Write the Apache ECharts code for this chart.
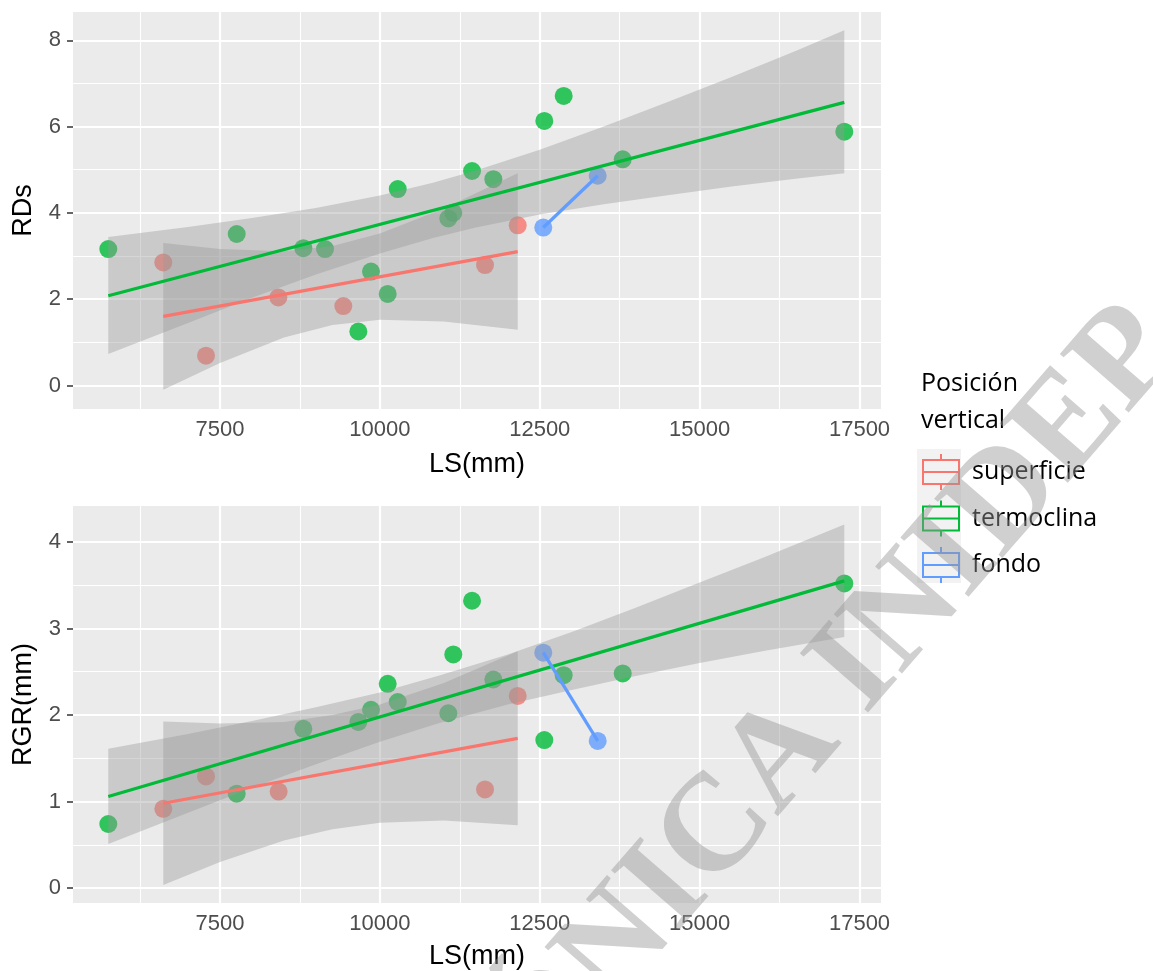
<!DOCTYPE html>
<html>
<head>
<meta charset="utf-8">
<script src="https://cdn.jsdelivr.net/npm/echarts@6/dist/echarts.min.js"></script>
<style>
html,body{margin:0;padding:0;background:#fff;}
#chart{width:1153px;height:971px;}
</style>
</head>
<body>
<div id="chart"></div>
<script>
// ---- axis breaks ----
const xTicks = [7500, 10000, 12500, 15000, 17500];
const xMinor = [6250, 8750, 11250, 13750, 16250];
const rdsTicks = [0, 2, 4, 6, 8];
const rdsMinor = [1, 3, 5, 7];
const rgrTicks = [0, 1, 2, 3, 4];
const rgrMinor = [0.5, 1.5, 2.5, 3.5];

const groups = ['superficie', 'termoclina', 'fondo'];
const groupColors = ['#F8766D', '#00BA38', '#619CFF'];

// ---- RDs panel: points ----
const supLS_RDs = [6613, 7281, 8412, 9428, 11644, 12155];
const supRDs    = [2.85, 0.69, 2.04, 1.84, 2.79, 3.71];
const terLS_RDs = [5753, 7761, 8803, 9142, 9663, 9861, 10122, 10279, 11070, 11148, 11441, 11774, 12571, 12874, 13797, 17262];
const terRDs    = [3.16, 3.51, 3.18, 3.16, 1.25, 2.64, 2.12, 4.55, 3.87, 4.00, 4.97, 4.78, 6.13, 6.71, 5.24, 5.88];
const fonLS_RDs = [12555, 13406];
const fonRDs    = [3.66, 4.86];

// ---- RDs panel: fitted lines ----
const supFitLS_RDs = [6613, 12155];
const supFitRDs    = [1.60, 3.10];
const terFitLS_RDs = [5753, 17262];
const terFitRDs    = [2.08, 6.56];

// ---- RDs panel: confidence bands ----
const supBandLS_RDs = [6613, 7500, 8500, 9258, 10000, 11000, 12155];
const supBandLoRDs  = [-0.10, 0.52, 1.11, 1.40, 1.52, 1.48, 1.29];
const supBandHiRDs  = [3.30, 3.16, 3.11, 3.23, 3.52, 4.10, 4.92];
const terBandLS_RDs = [5753, 7000, 8000, 9000, 10000, 10830, 11500, 12500, 13500, 14500, 15500, 16500, 17262];
const terBandLoRDs  = [0.73, 1.45, 2.03, 2.57, 3.06, 3.42, 3.66, 3.96, 4.20, 4.41, 4.61, 4.79, 4.92];
const terBandHiRDs  = [3.44, 3.67, 3.88, 4.11, 4.40, 4.70, 4.98, 5.46, 6.00, 6.57, 7.15, 7.75, 8.23];

// ---- RGR panel: points ----
const supLS_RGR = [6613, 7281, 8417, 11644, 12155];
const supRGR    = [0.915, 1.29, 1.115, 1.14, 2.22];
const terLS_RGR = [5753, 7761, 8803, 9663, 9861, 10122, 10279, 11070, 11148, 11441, 11774, 12571, 12874, 13797, 17262];
const terRGR    = [0.74, 1.09, 1.84, 1.92, 2.06, 2.36, 2.15, 2.02, 2.70, 3.32, 2.41, 1.71, 2.46, 2.48, 3.52];
const fonLS_RGR = [12555, 13406];
const fonRGR    = [2.72, 1.70];

// ---- RGR panel: fitted lines ----
const supFitLS_RGR = [6613, 12155];
const supFitRGR    = [0.98, 1.73];
const terFitLS_RGR = [5753, 17262];
const terFitRGR    = [1.057, 3.55];

// ---- RGR panel: confidence bands ----
const supBandLS_RGR = [6613, 7500, 8500, 9258, 10000, 11000, 12155];
const supBandLoRGR  = [0.035, 0.30, 0.55, 0.68, 0.755, 0.78, 0.725];
const supBandHiRGR  = [1.925, 1.90, 1.92, 2.00, 2.12, 2.37, 2.735];
const terBandLS_RGR = [5753, 7000, 8000, 9000, 10000, 10943, 12000, 13000, 14000, 15000, 16000, 17262];
const terBandLoRGR  = [0.51, 0.87, 1.16, 1.43, 1.69, 1.91, 2.12, 2.29, 2.45, 2.60, 2.74, 2.90];
const terBandHiRGR  = [1.61, 1.78, 1.93, 2.09, 2.26, 2.46, 2.70, 2.96, 3.24, 3.53, 3.82, 4.20];

// ---------------------------------------------------------------
const pairs = (xs, ys) => xs.map((x, i) => [x, ys[i]]);
const AX_FONT = 'Liberation Sans, Arial, sans-serif';
const LEG_FONT = 'Open Sans, Noto Sans, sans-serif';

function gridLines(idx, yMajor, yMinor) {
  const w = (width) => ({ lineStyle: { color: '#FFFFFF', width: width, type: 'solid', opacity: 1 } });
  const d = [];
  xMinor.forEach(v => d.push(Object.assign({ xAxis: v }, w(1.1))));
  yMinor.forEach(v => d.push(Object.assign({ yAxis: v }, w(1.1))));
  xTicks.forEach(v => d.push(Object.assign({ xAxis: v }, w(2.2))));
  yMajor.forEach(v => d.push(Object.assign({ yAxis: v }, w(2.2))));
  return {
    type: 'line', name: 'grid' + idx, xAxisIndex: idx, yAxisIndex: idx, data: [], silent: true, z: 1,
    markLine: { silent: true, symbol: ['none', 'none'], label: { show: false }, z: 1, animation: false,
      emphasis: { disabled: true }, data: d }
  };
}
function pointSeries(idx, name, color, xs, ys) {
  return { type: 'scatter', name: name, xAxisIndex: idx, yAxisIndex: idx, z: 2, silent: true,
    symbol: 'circle', symbolSize: 18, itemStyle: { color: color, opacity: 0.8 },
    data: pairs(xs, ys), animation: false };
}
function bandSeries(idx, xs, lo, hi) {
  return { type: 'custom', name: 'band', xAxisIndex: idx, yAxisIndex: idx, z: 3, silent: true, animation: false,
    data: xs.map((x, i) => [x, lo[i], hi[i]]), encode: { x: 0, y: [1, 2] },
    renderItem: function (params, api) {
      if (params.dataIndex !== 0) return null;
      const pts = [];
      for (let i = 0; i < xs.length; i++) pts.push(api.coord([xs[i], hi[i]]));
      for (let i = xs.length - 1; i >= 0; i--) pts.push(api.coord([xs[i], lo[i]]));
      return { type: 'polygon', shape: { points: pts }, style: { fill: 'rgba(153,153,153,0.4)' } };
    } };
}
function fitSeries(idx, color, xs, ys) {
  return { type: 'line', name: 'fit', xAxisIndex: idx, yAxisIndex: idx, z: 4, silent: true, animation: false,
    symbol: 'none', lineStyle: { color: color, width: 3.2 }, data: pairs(xs, ys) };
}
const plainNum = v => String(v);
function xAxisCfg(idx, gap) {
  return { type: 'value', gridIndex: idx, min: 5201, max: 17836,
    axisLine: { show: false }, splitLine: { show: false },
    axisTick: { show: true, customValues: xTicks, length: 5, lineStyle: { color: '#333333', width: 1.5 } },
    axisLabel: { customValues: xTicks, formatter: plainNum, color: '#4D4D4D', fontSize: 22, fontFamily: AX_FONT, margin: 10 },
    name: 'LS(mm)', nameLocation: 'middle', nameGap: gap,
    nameTextStyle: { color: '#000000', fontSize: 27, fontFamily: AX_FONT } };
}
function yAxisCfg(idx, min, max, ticks, name) {
  return { type: 'value', gridIndex: idx, min: min, max: max,
    axisLine: { show: false }, splitLine: { show: false },
    axisTick: { show: true, customValues: ticks, length: 6, lineStyle: { color: '#333333', width: 1.5 } },
    axisLabel: { customValues: ticks, formatter: plainNum, color: '#4D4D4D', fontSize: 22, fontFamily: AX_FONT, margin: 12 },
    name: name, nameLocation: 'middle', nameGap: 36,
    nameTextStyle: { color: '#000000', fontSize: 27, fontFamily: AX_FONT } };
}

const boxIcon = 'path://M18,0L18,6M0,6L36,6L36,30L0,30ZM0,18L36,18M18,30L18,36';

const option = {
  animation: false,
  backgroundColor: '#FFFFFF',
  grid: [
    { left: 73, top: 12, width: 808, height: 397, show: true, backgroundColor: '#EBEBEB', borderWidth: 0 },
    { left: 73, top: 506, width: 808, height: 397, show: true, backgroundColor: '#EBEBEB', borderWidth: 0 }
  ],
  xAxis: [xAxisCfg(0, 42), xAxisCfg(1, 40)],
  yAxis: [yAxisCfg(0, -0.546, 8.655, rdsTicks, 'RDs'), yAxisCfg(1, -0.173, 4.415, rgrTicks, 'RGR(mm)')],
  title: { text: 'Posición\nvertical', left: 921, top: 365, padding: 0,
    textStyle: { fontSize: 25, fontWeight: 'normal', color: '#000000', fontFamily: LEG_FONT, lineHeight: 37 } },
  legend: {
    orient: 'vertical', left: 922, top: 453, padding: 0, itemWidth: 36, itemHeight: 36, itemGap: 8.5,
    selectedMode: false,
    textStyle: { fontSize: 25, color: '#000000', fontFamily: LEG_FONT, padding: [0, 0, 0, 8] },
    data: groups.map((g, i) => ({ name: g, icon: boxIcon,
      itemStyle: { color: 'transparent', borderColor: groupColors[i], borderWidth: 2, opacity: 1 } }))
  },
  graphic: [
    { type: 'rect', left: 917, top: 449, shape: { width: 44, height: 134 }, style: { fill: '#F2F2F2' }, z: 0, silent: true },
    { type: 'text', x: 1155, y: 328, rotation: 49 * Math.PI / 180, z: 100, silent: true,
      style: { text: 'ELECTRÓNICA INIDEP', fill: 'rgba(150,150,150,0.45)',
        font: 'bold 138px "Liberation Serif", "Times New Roman", serif',
        textAlign: 'right', textVerticalAlign: 'middle' } }
  ],
  series: [
    gridLines(0, rdsTicks, rdsMinor),
    gridLines(1, rgrTicks, rgrMinor),
    pointSeries(0, groups[0], groupColors[0], supLS_RDs, supRDs),
    pointSeries(0, groups[1], groupColors[1], terLS_RDs, terRDs),
    pointSeries(0, groups[2], groupColors[2], fonLS_RDs, fonRDs),
    pointSeries(1, groups[0], groupColors[0], supLS_RGR, supRGR),
    pointSeries(1, groups[1], groupColors[1], terLS_RGR, terRGR),
    pointSeries(1, groups[2], groupColors[2], fonLS_RGR, fonRGR),
    bandSeries(0, supBandLS_RDs, supBandLoRDs, supBandHiRDs),
    bandSeries(0, terBandLS_RDs, terBandLoRDs, terBandHiRDs),
    bandSeries(1, supBandLS_RGR, supBandLoRGR, supBandHiRGR),
    bandSeries(1, terBandLS_RGR, terBandLoRGR, terBandHiRGR),
    fitSeries(0, groupColors[0], supFitLS_RDs, supFitRDs),
    fitSeries(0, groupColors[1], terFitLS_RDs, terFitRDs),
    fitSeries(0, groupColors[2], fonLS_RDs, fonRDs),
    fitSeries(1, groupColors[0], supFitLS_RGR, supFitRGR),
    fitSeries(1, groupColors[1], terFitLS_RGR, terFitRGR),
    fitSeries(1, groupColors[2], fonLS_RGR, fonRGR)
  ]
};

const chart = echarts.init(document.getElementById('chart'), null, { renderer: 'canvas' });
chart.setOption(option);
</script>
</body>
</html>
